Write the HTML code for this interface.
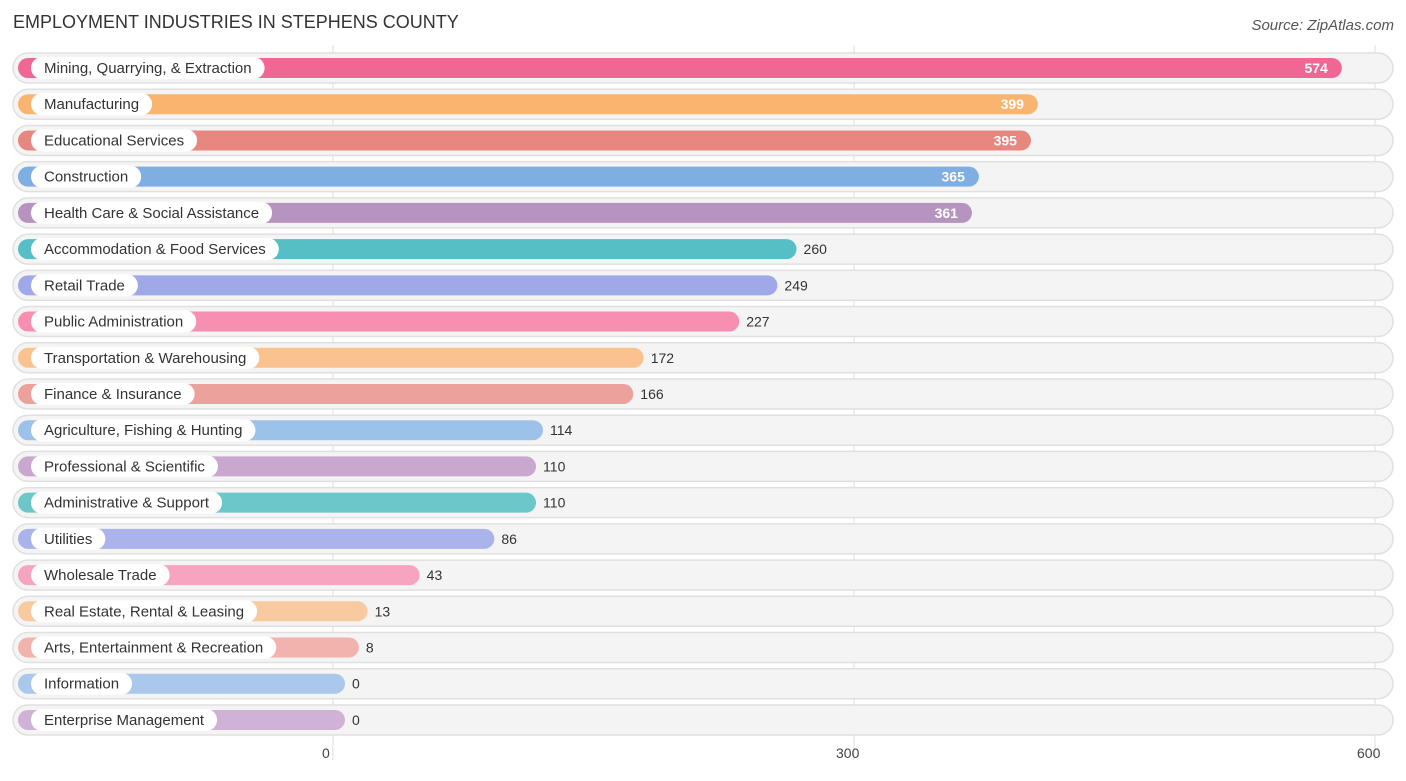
<!DOCTYPE html>
<html><head><meta charset="utf-8"><style>
body{margin:0;background:#fff;font-family:"Liberation Sans",sans-serif;}
svg text{font-family:"Liberation Sans",sans-serif;}
</style></head><body>
<svg id="chart" width="1406" height="776">
<text x="13" y="28" font-size="18" fill="#333">EMPLOYMENT INDUSTRIES IN STEPHENS COUNTY</text>
<text x="1394" y="30" font-size="15" fill="#555" font-style="italic" text-anchor="end">Source: ZipAtlas.com</text>
<g id="grid"></g><g id="rows"></g><g id="ticks"></g>
</svg>
<script>
const categories=["Mining, Quarrying, & Extraction","Manufacturing","Educational Services","Construction","Health Care & Social Assistance","Accommodation & Food Services","Retail Trade","Public Administration","Transportation & Warehousing","Finance & Insurance","Agriculture, Fishing & Hunting","Professional & Scientific","Administrative & Support","Utilities","Wholesale Trade","Real Estate, Rental & Leasing","Arts, Entertainment & Recreation","Information","Enterprise Management"];
const values=[574,399,395,365,361,260,249,227,172,166,114,110,110,86,43,13,8,0,0];
const colors=["#f06794","#f9b56f","#e8877f","#7eaee2","#b793bf","#56bec5","#a0a9e7","#f68fb0","#f9c28e","#eda19c","#9dc2ea","#c9a8d0","#6cc7cb","#abb3eb","#f7a4c0","#f9caa0","#f2b2ae","#a9c8ec","#cfb2d6"];
const tickValues=[0,300,600];
const NS="http://www.w3.org/2000/svg";
function x(v){return 333+v*521/300;}
function y(i){return 68+i*36.22;}
function mk(t,a,p){const e=document.createElementNS(NS,t);for(const k in a)e.setAttribute(k,a[k]);p.appendChild(e);return e;}
const grid=document.getElementById('grid'),rows=document.getElementById('rows'),ticks=document.getElementById('ticks');
tickValues.forEach(t=>{
 const l=mk('line',{x1:x(t),x2:x(t),y1:45,y2:760,stroke:'#ddd','stroke-width':1},grid);
 
 
 const tx=mk('text',{x:x(t)+(t===0?-11:t===600?-18:-18),y:758,'font-size':14,fill:'#444'},ticks);
 tx.textContent=t;
 
 
});
categories.forEach((c,i)=>{
 const cy=y(i);
 const g=mk('g',{},rows);
 
 
 mk('rect',{x:13,y:cy-15,width:1380,height:30,rx:15,fill:'#f4f4f4',stroke:'#e0e0e0','stroke-width':1.5},g);
 const end=x(values[i])+12;
 const b=mk('rect',{x:18,y:cy-10,width:end-18,height:20,rx:10,fill:colors[i]},g);
 
 
 const lab=mk('text',{x:44,y:cy+5,'font-size':15,fill:'#333'},g);
 lab.textContent=c;
 
 
 const w=lab.getComputedTextLength();
 const pill=mk('rect',{x:31,y:cy-11,width:w+26,height:22,rx:11,fill:'#fff'},g);
 g.insertBefore(pill,lab);
 const inside=values[i]>=300;
 const vt=mk('text',{x:inside?end-14:end+7,y:cy+5,'font-size':14,fill:inside?'#fff':'#333','text-anchor':inside?'end':'start','font-weight':inside?'bold':'normal'},g);
 vt.textContent=values[i];
 
 
});
</script>
</body></html>
